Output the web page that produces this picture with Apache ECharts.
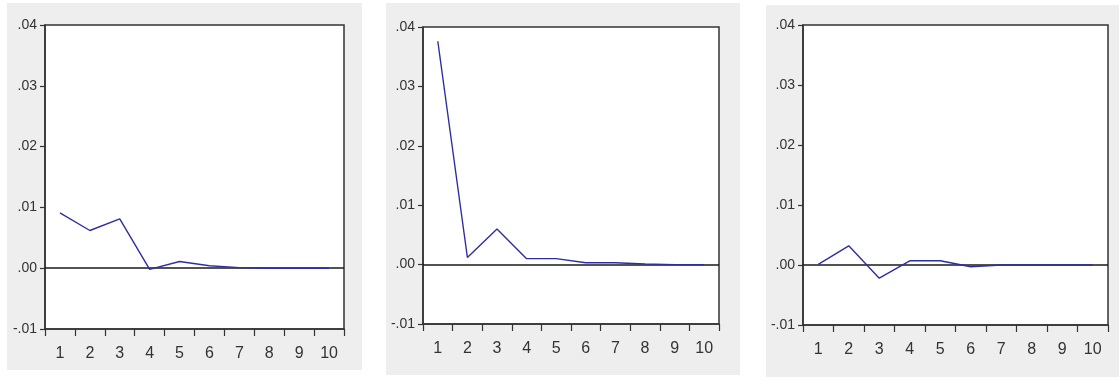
<!DOCTYPE html>
<html>
<head>
<meta charset="utf-8">
<script src="https://cdn.jsdelivr.net/npm/echarts@6/dist/echarts.min.js"></script>
<style>
html,body{margin:0;padding:0;background:#fff;}
#c{width:1119px;height:381px;}
</style>
</head>
<body>
<div id="c"></div>
<script>
// Data
const periods = ['1','2','3','4','5','6','7','8','9','10'];
const panel1 = [0.0091, 0.0062, 0.0081, -0.0002, 0.0011, 0.0004, 0.0001, 0.0, 0.0, 0.0];
const panel2 = [0.0376, 0.0012, 0.0060, 0.0010, 0.0010, 0.0003, 0.0003, 0.0001, 0.0, 0.0];
const panel3 = [0.0001, 0.0032, -0.0022, 0.0007, 0.0007, -0.0003, 0.0, 0.0, 0.0, 0.0];
const yMin = -0.01, yMax = 0.04, yStep = 0.01;

const seriesData = [panel1, panel2, panel3];
const grids = [
  {left: 45, top: 25, width: 299, height: 304},
  {left: 423, top: 27, width: 296, height: 297},
  {left: 803, top: 25, width: 305, height: 300}
];
const bgRects = [
  {x: 7, y: 3, w: 355, h: 367},
  {x: 386, y: 3, w: 354, h: 372},
  {x: 766, y: 5, w: 353, h: 372}
];
const FONT = "'Liberation Sans', Arial, sans-serif";
const fmt = v => {
  const r = Math.round(v * 100) / 100;
  let s = Math.abs(r).toFixed(2).replace(/^0/, '');
  return (r < 0 ? '-' : '') + s;
};

const chart = echarts.init(document.getElementById('c'), null, {renderer: 'canvas'});
const option = {
  animation: false,
  backgroundColor: '#ffffff',
  graphic: bgRects.map(r => ({
    type: 'rect', z: -10, silent: true,
    shape: {x: r.x, y: r.y, width: r.w, height: r.h},
    style: {fill: '#eeeeee'}
  })),
  grid: grids.map(g => Object.assign({
    show: true, backgroundColor: '#ffffff', borderColor: '#333333', borderWidth: 1.5,
    containLabel: false
  }, g)),
  xAxis: grids.map((g, i) => ({
    type: 'category', gridIndex: i, data: periods, boundaryGap: true,
    axisLine: {show: true, onZero: false, lineStyle: {color: '#333333', width: 1.5}},
    axisTick: {show: true, interval: 0, alignWithLabel: false, length: 7, lineStyle: {color: '#333333', width: 1.2}},
    axisLabel: {interval: 0, margin: 17, color: '#333333', fontSize: 16, fontFamily: FONT},
    splitLine: {show: false}
  })),
  yAxis: grids.map((g, i) => ({
    type: 'value', gridIndex: i, min: yMin, max: yMax, interval: yStep,
    axisLine: {show: true, lineStyle: {color: '#333333', width: 1.5}},
    axisTick: {show: true, length: 5, lineStyle: {color: '#333333', width: 1.2}},
    axisLabel: {margin: 8, color: '#333333', fontSize: 14, fontFamily: FONT, formatter: fmt},
    splitLine: {show: false}
  })),
  series: seriesData.map((d, i) => ({
    type: 'line', xAxisIndex: i, yAxisIndex: i, data: d,
    symbol: 'none', lineStyle: {color: '#2e2ea3', width: 1.4},
    markLine: {
      silent: true, symbol: ['none', 'none'], label: {show: false},
      lineStyle: {color: '#1a1a1a', width: 1.6, type: 'solid'},
      data: [{yAxis: 0}], z: 1
    }
  }))
};
chart.setOption(option);
</script>
</body>
</html>
